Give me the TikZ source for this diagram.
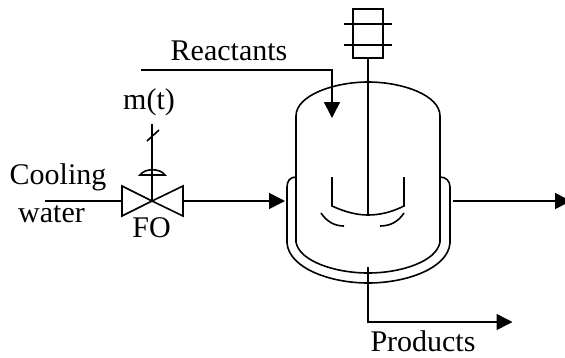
\documentclass[tikz,border=0pt]{standalone}
\usepackage{fontspec}
\setmainfont{Liberation Serif}
\usepackage{tikz}
\usetikzlibrary{arrows.meta,calc}

\tikzset{
  pipe/.style={line width=1.6pt},
  flow/.style={pipe,-{Triangle[length=16pt,width=16pt]}},
  label/.style={font=\fontsize{30}{34}\selectfont,inner sep=0pt,anchor=base}
}

\begin{document}
\begin{tikzpicture}[x=1pt,y=-1pt]
\useasboundingbox (0,0) rectangle (565,357);

% Motor box
\node[draw,pipe,minimum width=30pt,minimum height=49pt,inner sep=0pt,outer sep=0pt] (motor) at (368,33.5) {};
\coordinate (coilAl) at (344,24);
\coordinate (coilAr) at (392,24);
\coordinate (coilBl) at (344,45);
\coordinate (coilBr) at (392,45);
\draw[pipe] (coilAl) -- (coilAr);
\draw[pipe] (coilBl) -- (coilBr);

% Shaft
\coordinate (hub) at (368,215);
\draw[pipe] (motor.south) -- (hub);

% Vessel
\draw[pipe] (296,177) -- (296,116) .. controls (296,95) and (335,82) .. (368,82)
  .. controls (402,82) and (440,95) .. (440,116) -- (440,177);
\draw[pipe] (296,177) -- (296,242) .. controls (299,261) and (335,273) .. (368,273)
  .. controls (402,273) and (437,261) .. (440,242) -- (440,177);

% Jacket
\draw[pipe] (296,177) .. controls (290,177) and (287,181) .. (287,187) -- (287,243)
  .. controls (289,268) and (330,283) .. (368,283)
  .. controls (407,283) and (448,268) .. (450,243) -- (450,187)
  .. controls (450,181) and (446,177) .. (440,177);

% Impeller
\draw[pipe] (332,177) -- (332,206) .. controls (345,212) and (357,215) .. (hub)
  .. controls (380,215) and (392,212) .. (404,206) -- (404,177);
\draw[pipe] (321,213) .. controls (327,222) and (335,226) .. (344,226);
\draw[pipe] (380,226) .. controls (390,226) and (398,222) .. (404,213);

% Reactants feed
\coordinate (feedin) at (141,70);
\coordinate (feedout) at (332,118);
\draw[flow] (feedin) -| (feedout);
\node[label] (reactants) at (229,60) {Reactants};

% Valve
\coordinate (valve) at (152,201);
\coordinate (valveleft) at (122,201);
\coordinate (valveright) at (183,201);
\draw[pipe] (valve) -- (122,186) -- (122,216) -- cycle;
\draw[pipe] (valve) -- (183,186) -- (183,216) -- cycle;

% Actuator and signal
\coordinate (signal) at (152,124);
\draw[pipe] (valve) -- (signal);
\draw[pipe] (147,141) -- (159,130);
\draw[pipe] (140,175) .. controls (145,168) and (160,168) .. (165,175) -- cycle;
\node[label] (signaltext) at (149,109) {m(t)};

% Cooling water
\coordinate (coolin) at (45,201);
\coordinate (coolout) at (285,201);
\draw[pipe] (coolin) -- (valveleft);
\draw[flow] (valveright) -- (coolout);
\node[label] (cooling) at (58,184) {Cooling};
\node[label] (water) at (51.5,222) {water};
\node[label] (fo) at (151.5,237) {FO};

% Jacket outlet
\coordinate (outa) at (452.5,201);
\coordinate (outb) at (571,201);
\draw[flow] (outa) -- (outb);

% Products
\coordinate (proda) at (368,267);
\coordinate (prodb) at (512.5,322);
\draw[flow] (proda) |- (prodb);
\node[label] (products) at (423,351) {Products};
\end{tikzpicture}
\end{document}
